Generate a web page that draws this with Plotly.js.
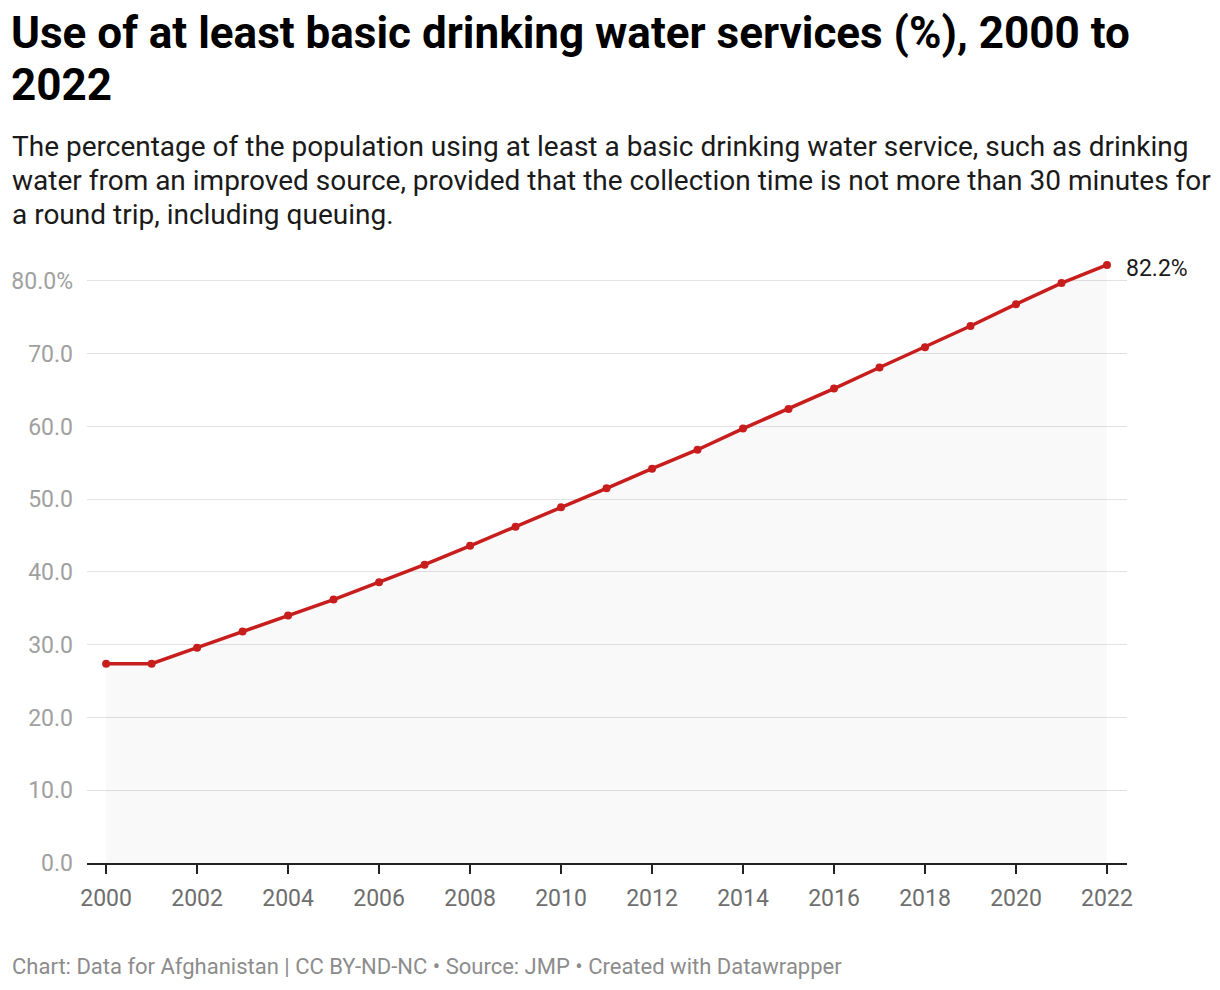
<!DOCTYPE html>
<html>
<head>
<meta charset="utf-8">
<script src="https://cdn.plot.ly/plotly-3.0.1.min.js"></script>
<style>
html,body{margin:0;padding:0;background:#fff;}
#chart{width:1220px;height:990px;}
</style>
</head>
<body>
<div id="chart"></div>
<script>
const years = [2000,2001,2002,2003,2004,2005,2006,2007,2008,2009,2010,2011,2012,2013,2014,2015,2016,2017,2018,2019,2020,2021,2022];
const values = [27.4,27.4,29.6,31.8,34.0,36.2,38.6,41.0,43.6,46.2,48.9,51.5,54.2,56.8,59.7,62.4,65.2,68.1,70.9,73.8,76.8,79.7,82.2];
const xTickVals = [2000,2002,2004,2006,2008,2010,2012,2014,2016,2018,2020,2022];
const yTickVals = [0,10,20,30,40,50,60,70,80];
const yTickText = ["0.0","10.0","20.0","30.0","40.0","50.0","60.0","70.0","80.0%"];
const titleLines = ["Use of at least basic drinking water services (%), 2000 to", "2022"];
const subtitleLines = [
  "The percentage of the population using at least a basic drinking water service, such as drinking",
  "water from an improved source, provided that the collection time is not more than 30 minutes for",
  "a round trip, including queuing."
];
const footerText = "Chart: Data for Afghanistan | CC BY-ND-NC • Source: JMP • Created with Datawrapper";
const lastLabel = "82.2%";

const W = 1220, H = 990;
const mL = 87, mR = 93, mT = 262, mB = 127;
const pw = W - mL - mR, ph = H - mT - mB;
const px = x => (x - mL) / pw;
const py = y => (H - mB - y) / ph;

const font = "Roboto, 'Noto Sans', sans-serif";

const data = [{
  x: years, y: values, type: 'scatter', mode: 'lines+markers',
  line: {color: '#c71e1d', width: 3.5},
  marker: {color: '#c71e1d', size: 8},
  fill: 'tozeroy', fillcolor: 'rgba(0,0,0,0.022)',
  cliponaxis: false,
  hoverinfo: 'x+y'
}];

const annotations = [];
const titleSize = 44, titleTops = [5, 57];
titleLines.forEach((t, i) => annotations.push({
  xref: 'paper', yref: 'paper', x: px(9), y: py(titleTops[i]), xanchor: 'left', yanchor: 'top',
  text: '<b>' + t + '</b>', showarrow: false, align: 'left',
  font: {family: font, size: titleSize, color: '#000'}
}));
const subSize = 28, subTops = [128, 162, 196];
subtitleLines.forEach((t, i) => annotations.push({
  xref: 'paper', yref: 'paper', x: px(10), y: py(subTops[i]), xanchor: 'left', yanchor: 'top',
  text: t, showarrow: false, align: 'left',
  font: {family: font, size: subSize, color: '#1a1a1a'}
}));
annotations.push({
  xref: 'paper', yref: 'paper', x: px(10), y: py(952), xanchor: 'left', yanchor: 'top',
  text: footerText, showarrow: false, align: 'left',
  font: {family: font, size: 22, color: '#8c8c8c'}
});
annotations.push({
  xref: 'x', yref: 'y', x: years[years.length-1], y: values[values.length-1],
  xanchor: 'left', yanchor: 'middle', xshift: 17, yshift: -4,
  text: lastLabel, showarrow: false,
  font: {family: font, size: 23, color: '#1a1a1a'}
});

const layout = {
  width: W, height: H,
  margin: {l: mL, r: mR, t: mT, b: mB, pad: 0},
  paper_bgcolor: '#fff', plot_bgcolor: 'rgba(0,0,0,0)',
  showlegend: false,
  font: {family: font},
  xaxis: {
    range: [1999.58, 2022.44],
    tickvals: xTickVals, ticktext: xTickVals.map(String),
    ticks: 'outside', ticklen: 9, tickwidth: 2, tickcolor: '#222',
    showline: true, linecolor: '#222', linewidth: 2,
    showgrid: false, zeroline: false,
    tickfont: {family: font, size: 23, color: '#6e6e6e'},
    ticklabelstandoff: 4,
    fixedrange: true
  },
  yaxis: {
    range: [0, 82.6],
    tickvals: yTickVals, ticktext: yTickText,
    ticks: '', showline: false, zeroline: false,
    showgrid: true, gridcolor: '#e2e2e2', gridwidth: 1,
    tickfont: {family: font, size: 23, color: '#a0a0a0'},
    ticklabelstandoff: 13,
    fixedrange: true
  },
  annotations: annotations
};

Plotly.newPlot('chart', data, layout, {displayModeBar: false, staticPlot: true});
</script>
</body>
</html>
